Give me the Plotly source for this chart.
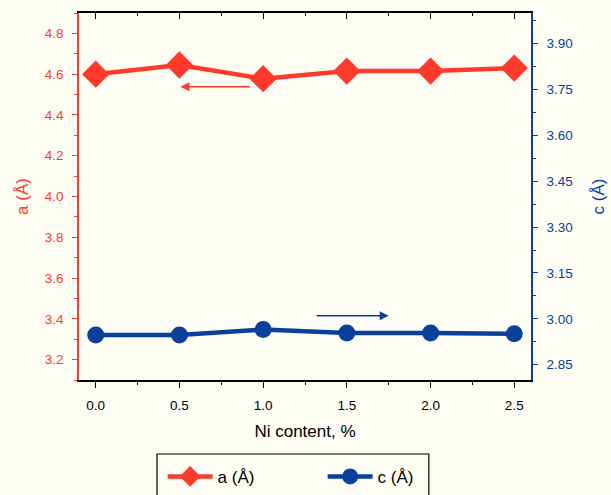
import plotly.graph_objects as go

ni = [0.0, 0.5, 1.0, 1.5, 2.0, 2.5]
a_vals = [4.60, 4.645, 4.578, 4.615, 4.615, 4.63]
c_vals = [2.947, 2.947, 2.965, 2.954, 2.954, 2.951]

RED = "#ff3a2c"
BLUE = "#0b3f9c"
BG = "#fdfdf3"
FONT = "Liberation Sans, Arial, sans-serif"

fig = go.Figure()
fig.add_trace(go.Scatter(x=ni, y=a_vals, name="a (Å)", mode="lines+markers",
                         line=dict(color=RED, width=4.5),
                         marker=dict(symbol="diamond", size=21, color=RED),
                         yaxis="y"))
fig.add_trace(go.Scatter(x=ni, y=c_vals, name="c (Å)", mode="lines+markers",
                         line=dict(color=BLUE, width=4.5),
                         marker=dict(symbol="circle", size=17, color=BLUE),
                         yaxis="y2"))

fig.update_layout(
    width=611, height=495,
    margin=dict(l=79, r=80, t=13, b=115, autoexpand=False),
    paper_bgcolor=BG, plot_bgcolor=BG,
    font=dict(family=FONT, size=14, color="black"),
    xaxis=dict(range=[-0.1, 2.6], dtick=0.5, tickformat=".1f",
               showgrid=False, zeroline=False, automargin=False,
               showline=True, linecolor="black", linewidth=1.5, mirror=True,
               ticks="outside", ticklen=6, tickcolor="black",
               ticklabelstandoff=6, tickfont=dict(size=13.5),
               minor=dict(dtick=0.25, ticks="outside", ticklen=3, tickcolor="black"),
               title=dict(text="Ni content, %", font=dict(size=17), standoff=13)),
    xaxis2=dict(range=[-0.1, 2.6], dtick=0.5, overlaying="x", side="top",
                showticklabels=False, showgrid=False, zeroline=False, automargin=False,
                ticks="inside", ticklen=6, tickcolor="black",
                minor=dict(dtick=0.25, ticks="inside", ticklen=3, tickcolor="black")),
    yaxis=dict(range=[3.1, 4.9], dtick=0.2, tickformat=".1f",
               showgrid=False, zeroline=False, automargin=False,
               showline=True, linecolor=RED, linewidth=1.5,
               ticks="outside", ticklen=5, tickcolor=RED,
               ticklabelstandoff=6,
               tickfont=dict(color=RED, size=13.5),
               minor=dict(dtick=0.1, ticks="outside", ticklen=3, tickcolor=RED),
               title=dict(text="a (Å)", font=dict(color=RED, size=17), standoff=12)),
    yaxis2=dict(range=[2.8, 4.0], dtick=0.15, tick0=2.85, tickformat=".2f",
                overlaying="y", side="right",
                showgrid=False, zeroline=False, automargin=False,
                showline=True, linecolor=BLUE, linewidth=1.5,
                ticks="outside", ticklen=5, tickcolor=BLUE,
                ticklabelstandoff=6,
                tickfont=dict(color=BLUE, size=13.5),
                minor=dict(dtick=0.075, tick0=2.85, ticks="outside", ticklen=3, tickcolor=BLUE),
                title=dict(text="c (Å)", font=dict(color=BLUE, size=17), standoff=20)),
    legend=dict(orientation="h", x=0.185, y=-0.215, xanchor="left", yanchor="top",
                bgcolor="rgba(0,0,0,0)", borderwidth=0,
                itemwidth=45, entrywidth=100,
                font=dict(size=17)),
    showlegend=True,
)

# legend frame
fig.add_shape(type="rect", xref="paper", yref="paper",
              x0=0.1726, x1=0.774, y0=-0.2016, y1=-0.40,
              line=dict(color="black", width=1.2), fillcolor="rgba(0,0,0,0)", layer="below")

# dummy trace to activate xaxis2 for top ticks
fig.add_trace(go.Scatter(x=[None], y=[None], xaxis="x2", showlegend=False, hoverinfo="skip"))

fig.add_annotation(x=0.506, y=4.538, ax=0.93, ay=4.538, xref="x", yref="y",
                   axref="x", ayref="y", showarrow=True, arrowhead=2,
                   arrowsize=1.2, arrowwidth=1.5, arrowcolor=RED, text="")
fig.add_annotation(x=1.75, y=3.01, ax=1.31, ay=3.01, xref="x", yref="y2",
                   axref="x", ayref="y2", showarrow=True, arrowhead=2,
                   arrowsize=1.2, arrowwidth=1.5, arrowcolor=BLUE, text="")

fig.write_html("out.html")
